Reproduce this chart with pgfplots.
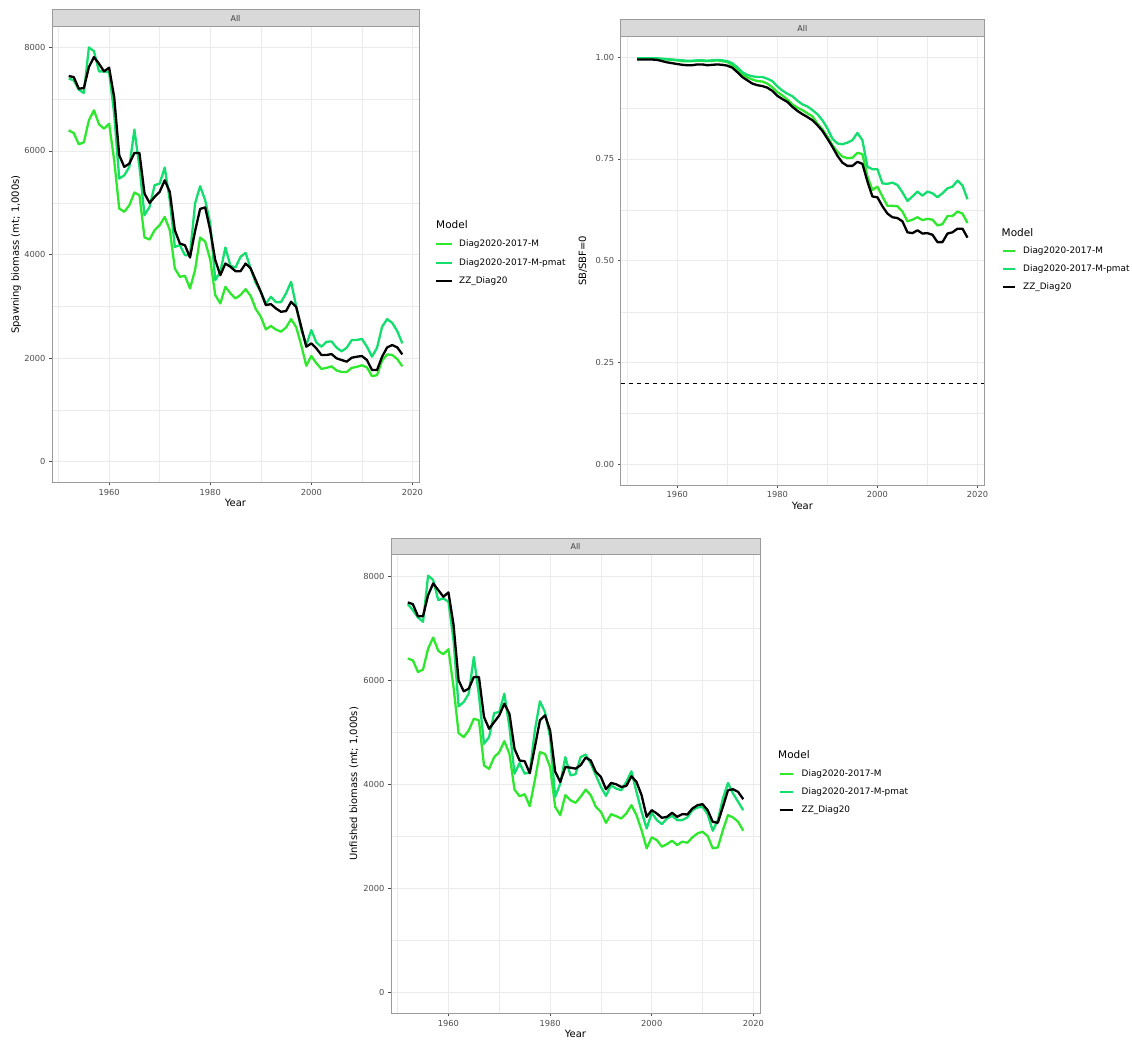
\documentclass[border=0pt]{standalone}
\usepackage{fontspec}
\setmainfont{DejaVu Sans}
\usepackage{pgfplots}
\usepackage{pgfplotstable}
\pgfplotsset{compat=1.18}

\definecolor{cM}{RGB}{46,232,46}
\definecolor{cP}{RGB}{20,222,110}
\definecolor{gridc}{RGB}{235,235,235}
\definecolor{borderc}{RGB}{155,155,155}
\definecolor{stripc}{RGB}{217,217,217}
\definecolor{tickc}{RGB}{77,77,77}
\definecolor{stript}{RGB}{60,60,60}

\newcommand\tickfont{\fontsize{8.3}{10}\selectfont}
\newcommand\legfont{\fontsize{8.9}{10}\selectfont}
\newcommand\titfont{\fontsize{10.5}{12}\selectfont}
\newcommand\labfont{\fontsize{10}{12}\selectfont}
\newcommand\stripfont{\fontsize{8}{10}\selectfont}

\pgfplotstableread{
year M P B
1952 6399 7400 7447
1953 6347 7364 7428
1954 6129 7183 7203
1955 6167 7120 7215
1956 6592 8000 7620
1957 6785 7929 7814
1958 6515 7537 7685
1959 6431 7537 7537
1960 6528 7524 7608
1961 5820 6720 7042
1962 4888 5466 5917
1963 4824 5530 5692
1964 4952 5692 5756
1965 5197 6412 5962
1966 5145 5692 5962
1967 4329 4760 5177
1968 4290 4920 4997
1969 4470 5338 5113
1970 4566 5370 5210
1971 4727 5679 5434
1972 4470 5049 5210
1973 3730 4148 4470
1974 3569 4180 4212
1975 3588 3987 4180
1976 3344 3990 3942
1977 3700 4985 4450
1978 4329 5319 4880
1979 4250 5049 4910
1980 3900 4600 4470
1981 3215 3505 3890
1982 3055 3666 3601
1983 3376 4135 3826
1984 3250 3780 3762
1985 3151 3750 3678
1986 3220 3955 3678
1987 3331 4032 3826
1988 3200 3730 3730
1989 2950 3450 3505
1990 2800 3280 3280
1991 2553 3050 3023
1992 2620 3183 3042
1993 2550 3080 2958
1994 2510 3080 2894
1995 2590 3250 2907
1996 2753 3473 3087
1997 2600 3000 2990
1998 2250 2550 2605
1999 1852 2250 2219
2000 2039 2540 2283
2001 1900 2300 2187
2002 1790 2220 2058
2003 1810 2315 2058
2004 1840 2320 2077
2005 1760 2200 1994
2006 1730 2130 1962
2007 1730 2200 1930
2008 1810 2347 2007
2009 1830 2350 2026
2010 1860 2370 2039
2011 1820 2220 1962
2012 1650 2026 1769
2013 1670 2200 1769
2014 1950 2605 2026
2015 2070 2753 2206
2016 2060 2680 2251
2017 1980 2520 2206
2018 1840 2283 2071
}\ssb

\pgfplotstableread{
year M P B
1952 0.997 0.997 0.994
1953 0.997 0.997 0.994
1954 0.997 0.997 0.994
1955 0.997 0.997 0.994
1956 0.996 0.997 0.993
1957 0.995 0.996 0.990
1958 0.994 0.995 0.987
1959 0.993 0.994 0.985
1960 0.992 0.993 0.983
1961 0.990 0.992 0.981
1962 0.990 0.991 0.980
1963 0.990 0.991 0.980
1964 0.991 0.992 0.982
1965 0.991 0.992 0.982
1966 0.990 0.991 0.980
1967 0.991 0.992 0.981
1968 0.992 0.993 0.982
1969 0.990 0.992 0.981
1970 0.988 0.990 0.979
1971 0.980 0.985 0.974
1972 0.968 0.975 0.963
1973 0.957 0.963 0.951
1974 0.950 0.956 0.943
1975 0.945 0.953 0.935
1976 0.941 0.951 0.931
1977 0.940 0.951 0.929
1978 0.935 0.947 0.925
1979 0.926 0.941 0.917
1980 0.914 0.928 0.905
1981 0.906 0.918 0.897
1982 0.896 0.910 0.890
1983 0.884 0.904 0.878
1984 0.876 0.893 0.868
1985 0.870 0.884 0.860
1986 0.862 0.879 0.853
1987 0.855 0.870 0.845
1988 0.837 0.860 0.833
1989 0.823 0.845 0.819
1990 0.805 0.825 0.800
1991 0.784 0.800 0.780
1992 0.768 0.788 0.758
1993 0.756 0.786 0.741
1994 0.752 0.790 0.733
1995 0.753 0.796 0.733
1996 0.765 0.814 0.743
1997 0.762 0.796 0.738
1998 0.707 0.731 0.695
1999 0.674 0.725 0.658
2000 0.682 0.725 0.656
2001 0.658 0.690 0.634
2002 0.635 0.689 0.616
2003 0.635 0.692 0.607
2004 0.634 0.686 0.605
2005 0.621 0.668 0.597
2006 0.597 0.647 0.570
2007 0.601 0.658 0.568
2008 0.607 0.670 0.575
2009 0.600 0.660 0.567
2010 0.603 0.670 0.568
2011 0.601 0.666 0.564
2012 0.587 0.656 0.546
2013 0.590 0.666 0.546
2014 0.610 0.678 0.567
2015 0.610 0.682 0.570
2016 0.621 0.697 0.579
2017 0.616 0.685 0.579
2018 0.593 0.651 0.557
}\dep

\pgfplotstableread{
year M P B
1952 6425 7473 7505
1953 6392 7357 7473
1954 6167 7216 7241
1955 6212 7132 7241
1956 6617 8020 7646
1957 6830 7936 7871
1958 6573 7550 7743
1959 6508 7582 7614
1960 6605 7518 7698
1961 5878 6778 7080
1962 4991 5505 6007
1963 4914 5589 5794
1964 5042 5750 5846
1965 5268 6457 6071
1966 5235 5717 6071
1967 4367 4785 5300
1968 4303 4914 5074
1969 4528 5377 5203
1970 4624 5396 5332
1971 4836 5750 5557
1972 4592 5106 5364
1973 3904 4211 4688
1974 3776 4415 4463
1975 3815 4211 4450
1976 3585 4230 4219
1977 4083 5042 4720
1978 4624 5602 5235
1979 4592 5396 5332
1980 4339 4914 5042
1981 3572 3764 4250
1982 3412 4019 4051
1983 3796 4528 4339
1984 3700 4179 4326
1985 3649 4198 4307
1986 3764 4528 4371
1987 3904 4580 4520
1988 3796 4403 4463
1989 3572 4179 4243
1990 3476 3955 4147
1991 3265 3783 3910
1992 3431 3987 4032
1993 3393 3923 4006
1994 3348 3891 3955
1995 3444 4051 3974
1996 3604 4256 4160
1997 3412 3859 4051
1998 3124 3476 3796
1999 2773 3156 3380
2000 2984 3457 3508
2001 2933 3316 3444
2002 2805 3240 3361
2003 2856 3348 3380
2004 2920 3399 3457
2005 2837 3316 3380
2006 2901 3316 3431
2007 2882 3367 3425
2008 2984 3508 3540
2009 3061 3559 3604
2010 3093 3572 3623
2011 3010 3431 3508
2012 2773 3112 3284
2013 2792 3316 3265
2014 3124 3732 3572
2015 3412 4032 3891
2016 3367 3827 3910
2017 3284 3668 3859
2018 3112 3508 3719
}\unf

\pgfplotsset{
  panel/.style={
    scale only axis,
    xmin=1948.7, xmax=2021.3,
    xtick={1960,1980,2000,2020},
    minor xtick={1950,1970,1990,2010},
    grid=both,
    major grid style={draw=gridc, line width=0.9pt},
    minor grid style={draw=gridc, line width=0.45pt},
    axis line style={draw=borderc, line width=0.9pt},
    tick align=outside,
    tick pos=left,
    major tick length=3pt,
    minor tick length=0pt,
    tick style={draw=tickc, line width=0.8pt},
    ticklabel style={font=\tickfont, text=tickc},
    /pgf/number format/assume math mode=true,
    xticklabel style={/pgf/number format/1000 sep={}},
    label style={font=\labfont},
    xlabel={Year},
    xlabel style={at={(axis description cs:0.5,0)}, anchor=center, yshift=-20.7pt},
    every axis plot/.append style={line width=2.3pt, line join=round, no markers},
  }
}

\begin{document}
\begin{tikzpicture}[x=1pt,y=1pt]
\useasboundingbox (0,0) rectangle (1132,-1044);

% Panel 1: spawning biomass
\begin{axis}[panel, at={(52pt,-482.3pt)}, anchor=south west,
  width=367pt, height=455.6pt,
  ymin=-400, ymax=8400,
  ytick={0,2000,4000,6000,8000}, minor ytick={1000,3000,5000,7000},
  yticklabel style={/pgf/number format/1000 sep={}},
  ylabel={Spawning biomass (mt; 1,000s)},
  ylabel style={at={(axis description cs:-0.098,0.5)}, anchor=center}]
\addplot[cM] table[x=year,y=M]{\ssb};
\addplot[cP] table[x=year,y=P]{\ssb};
\addplot[black] table[x=year,y=B]{\ssb};
\end{axis}
\draw[draw=borderc, fill=stripc, line width=0.6pt] (52,-9.5) rectangle (419,-26.7);
\node[font=\stripfont, text=stript] at (235.5,-18.1) {All};

% Panel 2: depletion
\begin{axis}[panel, at={(620.7pt,-485pt)}, anchor=south west,
  width=363.3pt, height=448.3pt,
  ymin=-0.05, ymax=1.05,
  ytick={0,0.25,0.5,0.75,1}, minor ytick={0.125,0.375,0.625,0.875},
  yticklabel style={/pgf/number format/.cd, fixed, fixed zerofill, precision=2},
  ylabel={SB/SBF=0},
  ylabel style={at={(axis description cs:-0.104,0.5)}, anchor=center}]
\addplot[cM] table[x=year,y=M]{\dep};
\addplot[cP] table[x=year,y=P]{\dep};
\addplot[black] table[x=year,y=B]{\dep};
\addplot[black, line width=0.9pt, dash pattern=on 4pt off 4pt] coordinates {(1948.7,0.2) (2021.3,0.2)};
\end{axis}
\draw[draw=borderc, fill=stripc, line width=0.6pt] (620.7,-19.3) rectangle (984,-36.7);
\node[font=\stripfont, text=stript] at (802.3,-28) {All};

% Panel 3: unfished biomass
\begin{axis}[panel, at={(391pt,-1013.3pt)}, anchor=south west,
  width=369pt, height=459pt,
  ymin=-401, ymax=8431,
  ytick={0,2000,4000,6000,8000}, minor ytick={1000,3000,5000,7000},
  yticklabel style={/pgf/number format/1000 sep={}},
  ylabel={Unfished biomass (mt; 1,000s)},
  ylabel style={at={(axis description cs:-0.1,0.5)}, anchor=center}]
\addplot[cM] table[x=year,y=M]{\unf};
\addplot[cP] table[x=year,y=P]{\unf};
\addplot[black] table[x=year,y=B]{\unf};
\end{axis}
\draw[draw=borderc, fill=stripc, line width=0.6pt] (391,-538.3) rectangle (760,-554.3);
\node[font=\stripfont, text=stript] at (575.5,-546.3) {All};

% Legends
\node[anchor=west, inner sep=0, font=\titfont] at (436,-225) {Model};
\draw[cM, line width=2.3pt] (436,-244) -- (452,-244);
\draw[cP, line width=2.3pt] (436,-263) -- (452,-263);
\draw[black, line width=2.3pt] (436,-281) -- (452,-281);
\node[anchor=west, inner sep=0, font=\legfont] at (459,-244) {Diag2020-2017-M};
\node[anchor=west, inner sep=0, font=\legfont] at (459,-263) {Diag2020-2017-M-pmat};
\node[anchor=west, inner sep=0, font=\legfont] at (459,-281) {ZZ\_Diag20};

\node[anchor=west, inner sep=0, font=\titfont] at (1001.5,-233) {Model};
\draw[cM, line width=2.3pt] (1002.5,-251) -- (1015,-251);
\draw[cP, line width=2.3pt] (1002.5,-269) -- (1015,-269);
\draw[black, line width=2.3pt] (1002.5,-287) -- (1015,-287);
\node[anchor=west, inner sep=0, font=\legfont] at (1023,-251) {Diag2020-2017-M};
\node[anchor=west, inner sep=0, font=\legfont] at (1023,-269) {Diag2020-2017-M-pmat};
\node[anchor=west, inner sep=0, font=\legfont] at (1023,-287) {ZZ\_Diag20};

\node[anchor=west, inner sep=0, font=\titfont] at (778,-755) {Model};
\draw[cM, line width=2.3pt] (780,-774) -- (793,-774);
\draw[cP, line width=2.3pt] (780,-792) -- (793,-792);
\draw[black, line width=2.3pt] (780,-810) -- (793,-810);
\node[anchor=west, inner sep=0, font=\legfont] at (801.5,-774) {Diag2020-2017-M};
\node[anchor=west, inner sep=0, font=\legfont] at (801.5,-792) {Diag2020-2017-M-pmat};
\node[anchor=west, inner sep=0, font=\legfont] at (801.5,-810) {ZZ\_Diag20};
\end{tikzpicture}
\end{document}
